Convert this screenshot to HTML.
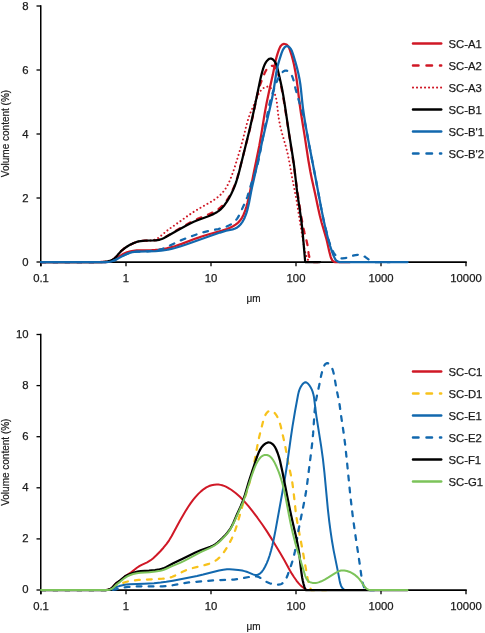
<!DOCTYPE html>
<html><head><meta charset="utf-8"><style>
html,body{margin:0;padding:0;background:#fff;}
body{width:485px;height:633px;overflow:hidden;}
svg{display:block;will-change:transform;}
.t{font-family:"Liberation Sans",sans-serif;font-size:11.3px;fill:#1a1a1a;stroke:#1a1a1a;stroke-width:0.25px;}
.u{font-family:"Liberation Sans",sans-serif;font-size:10px;fill:#1a1a1a;stroke:#1a1a1a;stroke-width:0.2px;}
</style></head><body>
<svg width="485" height="633" viewBox="0 0 485 633">
<rect width="485" height="633" fill="#fff"/>
<path d="M40.75 5.25 V266.20" stroke="#000" stroke-width="1.5" fill="none"/>
<path d="M40 262.10 H466.75" stroke="#000" stroke-width="1.6" fill="none"/>
<path d="M36.5 262.00 H41" stroke="#000" stroke-width="1.3"/>
<text x="28.5" y="266.10" text-anchor="end" class="t">0</text>
<path d="M36.5 198.00 H41" stroke="#000" stroke-width="1.3"/>
<text x="28.5" y="202.10" text-anchor="end" class="t">2</text>
<path d="M36.5 134.00 H41" stroke="#000" stroke-width="1.3"/>
<text x="28.5" y="138.10" text-anchor="end" class="t">4</text>
<path d="M36.5 70.00 H41" stroke="#000" stroke-width="1.3"/>
<text x="28.5" y="74.10" text-anchor="end" class="t">6</text>
<path d="M36.5 6.00 H41" stroke="#000" stroke-width="1.3"/>
<text x="28.5" y="10.10" text-anchor="end" class="t">8</text>
<path d="M41.00 262.00 V266.20" stroke="#000" stroke-width="1.3"/>
<text x="41.00" y="282.00" text-anchor="middle" class="t">0.1</text>
<path d="M126.00 262.00 V266.20" stroke="#000" stroke-width="1.3"/>
<text x="126.00" y="282.00" text-anchor="middle" class="t">1</text>
<path d="M211.00 262.00 V266.20" stroke="#000" stroke-width="1.3"/>
<text x="211.00" y="282.00" text-anchor="middle" class="t">10</text>
<path d="M296.00 262.00 V266.20" stroke="#000" stroke-width="1.3"/>
<text x="296.00" y="282.00" text-anchor="middle" class="t">100</text>
<path d="M381.00 262.00 V266.20" stroke="#000" stroke-width="1.3"/>
<text x="381.00" y="282.00" text-anchor="middle" class="t">1000</text>
<path d="M466.00 262.00 V266.20" stroke="#000" stroke-width="1.3"/>
<text x="466.00" y="282.00" text-anchor="middle" class="t">10000</text>
<text x="253.5" y="301.50" text-anchor="middle" class="u">μm</text>
<text transform="translate(8.5 133.50) rotate(-90)" text-anchor="middle" class="u" style="font-size:10px">Volume content (%)</text>
<path d="M41.00 262.00L105.35 262.02 107.68 261.84 109.32 261.58 111.54 260.94 113.65 259.96 115.65 258.77 120.37 255.61 123.59 253.83 126.96 252.40 130.48 251.35 133.42 250.80 136.74 250.48 140.74 250.31 151.74 250.12 155.41 249.92 159.06 249.57 162.69 249.07 166.62 248.33 170.51 247.41 174.69 246.23 181.66 243.90 195.68 238.57 201.65 236.48 208.97 234.24 222.17 230.60 226.92 229.03 230.01 227.76 233.01 226.24 235.58 224.63 237.94 222.76 239.57 221.12 240.81 219.57 242.07 217.63 243.31 215.26 244.37 212.77 245.39 209.89 246.49 206.34 247.55 202.46 248.80 197.29 250.12 191.13 254.08 171.18 259.29 145.71 261.11 135.55 264.74 113.18 266.62 103.01 268.87 92.25 272.90 74.37 275.64 60.65 276.53 57.15 277.57 53.63 278.93 49.67 279.89 47.38 280.77 45.95 281.88 44.82 282.97 44.21 284.17 43.97 284.79 44.00 285.70 44.22 286.28 44.47 287.06 44.99 288.14 46.18 288.98 47.65 290.01 50.30 291.68 55.53 292.89 59.98 294.03 64.79 295.37 71.66 296.59 79.27 297.55 86.56 299.62 103.75 300.93 112.97 304.61 135.68 308.27 159.74 310.33 171.56 311.78 178.74 315.19 194.03 318.33 209.03 319.79 215.54 321.72 222.97 326.26 238.32 327.20 242.16 329.27 251.56 330.59 256.55 331.41 258.82 332.20 260.24 333.25 261.35 334.59 262.09 350.00 262.10" stroke="#D01826" stroke-width="2.25" fill="none" stroke-linejoin="round" stroke-linecap="round"/>
<path d="M41.00 262.00L100.34 262.01 103.34 261.92 105.67 261.73 107.65 261.42 109.60 260.94 111.17 260.39 112.37 259.84 113.50 259.17 114.54 258.38 116.19 256.76 120.34 251.88 122.03 250.26 123.84 248.78 125.73 247.41 127.69 246.15 131.81 243.93 133.94 242.97 136.13 242.15 138.36 241.50 140.31 241.11 144.60 240.65 152.70 240.45 155.71 240.25 158.97 239.71 161.78 238.80 163.59 237.98 165.65 236.87 177.11 229.90 185.18 225.25 190.15 222.52 193.71 220.69 197.03 219.13 208.42 214.42 212.70 212.49 214.79 211.42 216.80 210.23 218.72 208.92 220.28 207.68 222.45 205.62 224.45 203.37 226.48 200.69 228.52 197.62 230.38 194.44 232.21 190.87 233.85 187.22 235.43 183.18 237.23 177.81 238.98 171.72 249.66 130.07 253.00 115.79 256.97 96.15 258.07 91.63 259.17 87.79 260.88 82.75 263.61 75.57 264.77 72.79 265.86 70.68 267.42 68.40 268.86 66.97 269.67 66.42 270.55 66.01 271.45 65.78 272.05 65.75 272.64 65.83 273.49 66.15 274.77 67.12 276.03 68.68 277.14 70.77 278.07 73.36 279.24 77.67 280.38 82.55 281.58 88.38 283.88 101.13 286.52 117.63 293.38 162.76 298.23 197.08 300.98 214.87 302.28 222.44 303.46 228.32 304.44 232.53 306.60 240.89 307.39 244.48 307.94 247.80 308.66 253.88 309.10 256.17 309.56 257.74 310.19 259.24 311.18 260.94 311.74 261.76 312.00 262.00 320.00 262.00" stroke="#D01826" stroke-width="2.25" fill="none" stroke-linejoin="round" stroke-linecap="round" stroke-dasharray="4.8 7.2"/>
<path d="M41.00 262.00L101.00 262.00 104.01 261.88 106.33 261.65 108.63 261.20 110.55 260.63 111.78 260.13 112.95 259.52 114.79 258.17 116.41 256.51 120.34 251.88 121.78 250.49 123.57 248.98 125.45 247.60 127.69 246.15 129.72 244.99 132.10 243.79 135.49 242.36 138.68 241.45 142.28 240.93 149.66 240.54 152.33 240.27 153.95 239.95 155.20 239.56 156.39 239.05 157.53 238.43 160.24 236.50 165.37 232.01 168.54 229.50 178.05 222.82 189.42 214.66 193.59 211.91 198.12 209.12 212.07 201.14 214.87 199.34 217.29 197.58 219.58 195.65 221.48 193.78 223.24 191.77 225.05 189.36 226.49 187.12 227.94 184.50 229.37 181.48 230.80 178.09 232.79 172.76 234.74 167.08 239.46 151.82 242.79 139.95 246.84 123.72 248.64 117.66 249.62 114.85 250.72 112.09 255.21 102.05 258.06 95.15 258.95 93.33 260.00 91.62 261.03 90.28 262.24 89.06 263.63 87.98 265.16 87.14 266.42 86.72 267.67 86.59 268.87 86.80 270.25 87.55 271.49 88.68 272.58 90.02 273.69 91.74 274.72 93.85 275.53 96.04 276.14 98.31 276.60 100.64 276.94 103.00 278.23 114.87 279.41 122.12 280.27 126.34 281.35 130.84 286.38 148.46 287.49 152.99 288.61 158.20 292.17 177.88 296.67 200.77 300.03 222.17 302.57 237.28 303.99 246.55 304.68 250.15 305.50 253.37 306.82 257.13 309.00 262.00 320.00 262.00" stroke="#D01826" stroke-width="2.0" fill="none" stroke-linejoin="round" stroke-linecap="round" stroke-dasharray="0.01 4"/>
<path d="M41.00 262.00L100.34 262.01 103.34 261.92 105.67 261.73 107.65 261.42 109.59 260.94 111.17 260.39 112.37 259.84 113.50 259.18 114.54 258.39 116.18 256.77 119.21 253.14 120.57 251.65 122.28 250.05 124.09 248.58 125.99 247.23 127.97 245.98 130.00 244.84 132.40 243.65 134.55 242.73 136.75 241.95 138.66 241.43 140.61 241.05 142.92 240.76 145.25 240.60 153.35 240.48 156.02 240.33 158.96 239.89 161.78 239.04 163.60 238.25 165.38 237.33 176.40 230.91 185.45 225.97 190.18 223.50 193.78 221.76 196.84 220.45 208.40 216.19 212.75 214.38 214.85 213.34 216.87 212.18 218.79 210.87 220.33 209.62 222.45 207.52 224.59 204.94 226.91 201.63 229.17 197.89 231.22 194.06 233.07 190.13 234.71 186.13 236.27 181.75 237.74 176.98 239.30 171.19 249.80 128.81 253.67 111.58 259.77 81.88 261.03 76.36 262.28 71.52 263.22 68.31 264.00 66.09 264.82 64.23 265.84 62.42 267.10 60.69 268.32 59.46 269.38 58.78 270.47 58.50 271.31 58.60 272.14 58.96 272.94 59.50 273.93 60.46 274.59 61.27 275.34 62.43 275.96 63.65 276.58 65.23 277.50 68.51 280.68 82.21 282.10 89.01 283.40 96.21 284.93 105.76 289.05 133.46 293.42 160.76 294.50 169.02 297.07 191.53 301.07 218.55 301.91 225.50 302.76 233.79 305.20 262.00 320.00 262.00" stroke="#000000" stroke-width="2.25" fill="none" stroke-linejoin="round" stroke-linecap="round"/>
<path d="M41.00 262.00L106.34 262.02 108.67 261.84 110.65 261.56 112.90 261.00 115.05 260.13 122.06 256.24 126.58 254.09 129.70 252.89 132.27 252.20 134.56 251.85 137.56 251.62 155.56 251.05 161.22 250.67 164.52 250.25 167.80 249.67 171.38 248.89 174.94 247.97 180.07 246.45 186.10 244.46 209.34 236.20 220.06 232.55 226.14 230.76 232.69 229.31 234.60 228.77 236.68 227.79 238.56 226.41 240.00 225.01 241.29 223.48 242.44 221.83 243.62 219.80 244.65 217.67 245.67 215.18 246.65 212.32 247.49 209.43 248.93 203.26 250.96 192.44 252.03 187.22 256.88 166.10 262.33 140.68 269.84 108.55 271.86 99.45 273.79 89.29 276.29 72.75 277.54 66.59 278.37 63.40 279.61 59.26 281.47 53.39 282.46 50.82 283.40 49.02 284.59 47.41 285.29 46.77 285.78 46.45 286.31 46.25 286.85 46.17 287.41 46.23 288.24 46.53 289.04 47.03 289.77 47.66 290.96 49.22 291.90 51.07 292.98 54.09 295.26 61.55 297.00 67.89 298.35 73.40 299.43 78.65 300.33 84.25 300.98 89.55 302.26 102.14 302.96 108.10 304.07 116.02 305.45 124.58 308.24 140.00 315.13 175.67 321.84 211.37 323.50 219.55 325.16 227.05 326.80 233.87 328.41 239.99 330.17 246.04 331.71 250.77 333.37 255.20 334.93 258.65 335.82 260.03 336.94 261.10 338.03 261.66 339.57 262.09 340.00 262.00 407.60 262.00" stroke="#1268AE" stroke-width="2.25" fill="none" stroke-linejoin="round" stroke-linecap="round"/>
<path d="M41.00 262.00L106.34 262.02 109.00 261.81 110.97 261.50 113.21 260.89 115.04 260.13 121.76 256.40 125.96 254.36 129.06 253.11 131.61 252.35 133.89 251.93 136.21 251.70 147.54 251.26 152.54 250.85 155.19 250.49 157.83 250.01 162.35 248.84 164.86 247.96 167.61 246.79 176.25 242.43 180.18 240.62 184.82 238.75 192.95 235.72 198.93 233.62 204.03 232.10 208.24 231.11 218.36 229.03 223.84 227.58 226.36 226.69 228.80 225.59 231.13 224.26 233.05 222.89 234.57 221.58 235.95 220.13 237.17 218.57 238.24 216.90 239.79 213.95 245.69 201.18 247.44 196.53 250.79 185.34 256.01 169.88 257.78 163.47 259.45 155.99 263.33 135.33 269.21 105.24 270.79 98.77 272.78 92.42 276.83 81.48 278.04 78.72 279.31 76.34 281.07 73.75 282.73 71.96 283.52 71.36 284.35 70.91 285.23 70.66 285.84 70.61 286.76 70.71 287.66 71.00 288.50 71.45 289.51 72.27 290.41 73.29 291.19 74.44 291.87 75.68 292.57 77.27 293.60 80.49 295.48 88.59 297.18 95.03 298.79 100.47 301.90 110.32 303.16 114.81 304.41 119.98 305.70 126.18 309.51 146.85 316.18 181.18 320.89 206.75 323.27 218.50 325.95 229.84 329.21 241.74 330.96 247.14 331.86 249.30 332.90 251.41 333.77 252.87 334.75 254.24 335.63 255.25 336.61 256.16 337.69 256.94 338.87 257.57 340.12 258.04 341.08 258.28 342.70 258.44 344.65 258.23 346.59 257.73 351.11 256.17 354.02 255.36 357.32 254.78 359.64 254.72 361.57 255.07 363.39 255.82 365.40 257.05 369.73 260.20 371.49 261.10 373.66 261.94 374.00 262.00 390.00 262.00" stroke="#1268AE" stroke-width="2.25" fill="none" stroke-linejoin="round" stroke-linecap="round" stroke-dasharray="4.8 7.2"/>
<path d="M413 43.60 H441.2" stroke="#D01826" stroke-width="2.5" fill="none" stroke-linecap="round"/>
<text x="448.5" y="47.60" class="t">SC-A1</text>
<path d="M413 65.60 H441.2" stroke="#D01826" stroke-width="2.5" fill="none" stroke-linecap="round" stroke-dasharray="5.5 8"/>
<text x="448.5" y="69.60" class="t">SC-A2</text>
<path d="M413 87.60 H441.2" stroke="#D01826" stroke-width="2.1" fill="none" stroke-linecap="round" stroke-dasharray="0.01 4"/>
<text x="448.5" y="91.60" class="t">SC-A3</text>
<path d="M413 109.60 H441.2" stroke="#000000" stroke-width="2.5" fill="none" stroke-linecap="round"/>
<text x="448.5" y="113.60" class="t">SC-B1</text>
<path d="M413 131.60 H441.2" stroke="#1268AE" stroke-width="2.5" fill="none" stroke-linecap="round"/>
<text x="448.5" y="135.60" class="t">SC-B'1</text>
<path d="M413 153.60 H441.2" stroke="#1268AE" stroke-width="2.5" fill="none" stroke-linecap="round" stroke-dasharray="5.5 8"/>
<text x="448.5" y="157.60" class="t">SC-B'2</text>
<path d="M40.75 333.75 V594.20" stroke="#000" stroke-width="1.5" fill="none"/>
<path d="M40 590.10 H466.75" stroke="#000" stroke-width="1.6" fill="none"/>
<path d="M36.5 590.00 H41" stroke="#000" stroke-width="1.3"/>
<text x="28.5" y="593.40" text-anchor="end" class="t">0</text>
<path d="M36.5 538.90 H41" stroke="#000" stroke-width="1.3"/>
<text x="28.5" y="542.30" text-anchor="end" class="t">2</text>
<path d="M36.5 487.80 H41" stroke="#000" stroke-width="1.3"/>
<text x="28.5" y="491.20" text-anchor="end" class="t">4</text>
<path d="M36.5 436.70 H41" stroke="#000" stroke-width="1.3"/>
<text x="28.5" y="440.10" text-anchor="end" class="t">6</text>
<path d="M36.5 385.60 H41" stroke="#000" stroke-width="1.3"/>
<text x="28.5" y="389.00" text-anchor="end" class="t">8</text>
<path d="M36.5 334.50 H41" stroke="#000" stroke-width="1.3"/>
<text x="28.5" y="337.90" text-anchor="end" class="t">10</text>
<path d="M41.00 590.00 V594.20" stroke="#000" stroke-width="1.3"/>
<text x="41.00" y="610.00" text-anchor="middle" class="t">0.1</text>
<path d="M126.00 590.00 V594.20" stroke="#000" stroke-width="1.3"/>
<text x="126.00" y="610.00" text-anchor="middle" class="t">1</text>
<path d="M211.00 590.00 V594.20" stroke="#000" stroke-width="1.3"/>
<text x="211.00" y="610.00" text-anchor="middle" class="t">10</text>
<path d="M296.00 590.00 V594.20" stroke="#000" stroke-width="1.3"/>
<text x="296.00" y="610.00" text-anchor="middle" class="t">100</text>
<path d="M381.00 590.00 V594.20" stroke="#000" stroke-width="1.3"/>
<text x="381.00" y="610.00" text-anchor="middle" class="t">1000</text>
<path d="M466.00 590.00 V594.20" stroke="#000" stroke-width="1.3"/>
<text x="466.00" y="610.00" text-anchor="middle" class="t">10000</text>
<text x="253.5" y="629.50" text-anchor="middle" class="u">μm</text>
<text transform="translate(8.5 462.20) rotate(-90)" text-anchor="middle" class="u" style="font-size:10px">Volume content (%)</text>
<path d="M41.00 590.00L106.37 590.05 108.95 589.48 110.72 588.64 111.53 588.08 112.52 587.22 115.20 584.24 116.38 583.09 120.43 580.20 125.28 576.15 131.14 572.34 136.91 567.80 139.36 566.09 141.69 564.81 147.15 562.32 150.32 560.47 152.95 558.45 156.37 555.26 160.34 551.22 163.46 547.74 166.60 543.85 169.12 540.33 171.70 536.06 176.53 526.92 180.05 520.49 185.42 511.28 188.09 507.04 190.71 503.18 193.29 499.70 195.61 496.85 198.32 493.90 200.98 491.36 203.83 489.04 206.34 487.39 209.03 486.05 211.57 485.19 214.20 484.66 216.87 484.49 218.54 484.58 220.53 484.87 222.15 485.26 224.05 485.89 225.89 486.69 227.67 487.60 229.69 488.78 231.93 490.23 235.92 493.25 239.90 496.80 244.09 501.09 248.47 506.12 252.84 511.59 257.43 517.72 262.27 524.51 266.75 531.13 272.45 540.14 280.17 553.00 284.51 560.50 289.93 570.45 291.95 573.89 294.13 577.25 296.43 580.53 298.27 582.90 300.05 584.88 301.50 586.25 302.80 587.29 304.72 588.61 307.00 590.00 320.00 590.00" stroke="#D01826" stroke-width="2.0" fill="none" stroke-linejoin="round" stroke-linecap="round"/>
<path d="M41.00 590.00L108.35 590.01 110.93 589.40 112.76 588.65 114.52 587.71 119.36 584.73 122.64 583.11 125.77 582.00 129.34 581.11 133.65 580.42 138.64 579.93 155.95 579.12 162.60 578.66 167.25 578.13 170.17 577.52 172.37 576.79 174.50 575.88 182.55 571.73 186.21 570.14 189.02 569.15 192.20 568.19 204.63 565.10 208.84 563.86 211.34 562.91 213.44 561.93 215.44 560.78 217.06 559.64 219.32 557.67 221.60 555.21 223.87 552.29 226.09 548.95 228.60 544.63 231.69 538.71 233.50 534.78 235.07 530.75 237.13 524.41 242.16 506.75 248.97 484.43 251.27 476.08 252.75 469.92 254.08 463.73 257.37 445.68 258.68 439.16 260.52 431.40 263.64 419.39 264.27 417.46 264.93 415.89 265.73 414.37 266.71 412.92 267.62 411.90 268.64 411.12 269.46 410.76 270.33 410.65 271.23 410.79 272.41 411.27 273.54 412.00 274.55 412.89 275.46 413.91 276.45 415.31 278.08 418.34 279.33 421.47 280.49 425.31 284.10 440.89 285.73 448.72 288.51 464.14 291.26 476.84 292.28 482.41 293.50 491.32 295.77 512.22 296.56 517.83 297.53 523.75 302.54 549.94 307.58 578.18 308.59 582.74 309.61 586.25 311.00 590.00 330.00 590.00" stroke="#F7C21C" stroke-width="2.25" fill="none" stroke-linejoin="round" stroke-linecap="round" stroke-dasharray="4.8 7.2"/>
<path d="M41.00 590.00L108.35 590.02 110.29 589.64 111.87 589.15 117.06 586.90 119.24 586.08 121.48 585.43 123.75 584.94 126.39 584.56 129.38 584.31 144.06 583.72 154.03 583.13 160.67 582.53 166.28 581.81 172.85 580.67 197.05 575.94 203.22 574.56 219.06 570.59 223.32 569.75 226.96 569.30 229.61 569.22 232.94 569.39 238.26 569.94 242.20 570.57 244.46 571.10 246.68 571.78 248.89 572.61 253.02 574.41 254.29 574.82 255.24 575.00 256.49 575.03 257.71 574.76 258.89 574.24 260.26 573.32 261.91 571.70 263.50 569.51 265.02 566.80 266.77 563.10 268.29 559.35 269.70 555.25 271.00 550.79 272.22 545.98 273.94 538.20 275.68 529.39 284.81 478.86 287.06 464.72 290.77 437.99 292.50 426.46 295.07 411.01 298.02 394.96 298.62 392.36 299.31 390.11 300.08 388.21 301.06 386.33 302.28 384.52 303.46 383.25 304.47 382.57 305.50 382.31 306.54 382.55 307.80 383.45 309.21 385.06 310.61 387.21 311.73 389.40 312.61 391.63 313.36 394.21 313.97 397.16 316.42 416.34 321.17 446.29 322.91 458.80 324.43 472.68 327.91 509.62 329.24 521.31 330.64 531.93 332.13 541.78 333.72 550.85 337.84 571.09 339.71 581.03 340.25 583.43 341.00 585.67 341.89 587.37 343.09 588.80 344.60 589.94 360.00 590.00" stroke="#1268AE" stroke-width="2.0" fill="none" stroke-linejoin="round" stroke-linecap="round"/>
<path d="M41.00 590.00L112.00 590.00 115.94 589.36 123.06 587.62 128.01 586.95 132.66 586.60 137.98 586.39 143.98 586.34 158.35 586.46 162.36 586.36 166.01 586.14 171.29 585.50 182.74 583.29 188.68 582.46 193.98 581.96 214.58 580.35 219.58 580.10 229.60 579.88 233.91 579.60 239.13 578.88 250.67 576.66 252.70 576.37 254.38 576.26 256.66 576.41 257.59 576.62 258.80 577.05 260.82 578.14 264.77 580.80 266.83 582.00 269.59 583.23 272.48 584.11 274.14 584.44 275.83 584.65 278.56 584.68 279.87 584.48 280.80 584.21 281.68 583.82 282.76 583.09 284.15 581.69 285.32 580.04 286.45 577.98 287.50 575.51 290.85 566.01 292.51 560.96 293.85 556.17 294.94 551.31 295.96 545.74 298.60 529.59 304.49 500.53 305.78 493.31 306.89 486.07 311.40 450.03 312.33 442.09 313.14 433.13 314.57 411.85 315.20 405.88 316.03 400.27 316.99 395.34 319.28 384.95 321.20 375.28 322.73 369.18 323.70 366.52 324.72 364.81 325.34 364.10 326.05 363.54 326.81 363.21 327.33 363.14 328.12 363.31 328.89 363.76 329.63 364.40 330.52 365.44 331.27 366.58 331.91 367.79 332.98 370.68 333.59 373.02 334.30 376.36 336.39 388.46 338.73 399.88 339.56 404.48 341.42 418.01 343.65 432.84 345.05 443.74 346.56 457.66 350.32 495.46 352.68 515.63 354.99 532.47 359.69 563.75 361.55 577.02 362.45 581.97 363.04 584.22 363.78 586.41 364.56 588.24 365.50 590.00 380.00 590.00" stroke="#1268AE" stroke-width="2.25" fill="none" stroke-linejoin="round" stroke-linecap="round" stroke-dasharray="4.8 7.2"/>
<path d="M41.00 590.00L106.37 590.05 108.32 589.66 109.85 589.11 111.52 588.09 112.75 586.99 115.42 584.01 116.64 582.88 120.15 580.38 124.74 576.54 126.14 575.68 127.63 574.97 133.87 572.56 135.77 571.98 137.38 571.62 140.68 571.19 149.03 570.67 154.99 570.06 159.62 569.35 161.56 568.90 163.14 568.41 165.88 567.24 173.27 563.34 183.18 558.60 195.41 552.54 200.63 550.31 210.40 546.78 212.80 545.68 215.09 544.37 217.50 542.63 219.79 540.67 222.44 538.09 225.46 534.93 227.43 532.65 229.05 530.55 230.52 528.35 231.82 526.05 233.55 522.45 236.72 515.06 240.71 506.24 243.08 500.40 245.09 494.41 248.46 482.88 249.96 478.11 256.39 458.51 257.53 455.37 258.67 452.57 259.69 450.42 260.86 448.37 262.04 446.72 263.16 445.45 264.44 444.30 265.87 443.34 267.39 442.68 268.64 442.48 269.26 442.50 270.18 442.71 271.07 443.09 271.92 443.60 273.43 444.94 274.84 446.83 276.11 449.24 277.65 453.02 278.92 456.84 280.06 461.01 282.46 472.04 287.46 497.55 290.00 509.95 292.34 520.69 296.16 537.24 297.67 544.41 298.63 549.65 299.33 554.28 301.15 570.58 302.10 577.18 302.79 580.77 303.57 583.99 304.41 586.86 305.50 590.00 407.60 590.00" stroke="#000000" stroke-width="2.25" fill="none" stroke-linejoin="round" stroke-linecap="round"/>
<path d="M41.00 590.00L107.00 590.00 107.37 590.06 109.66 589.68 111.49 589.00 112.87 588.13 113.84 587.26 115.89 585.08 116.87 584.18 120.34 581.59 124.99 577.81 127.24 576.39 129.65 575.23 133.15 574.05 136.76 573.29 140.40 572.86 149.37 572.19 155.34 571.52 160.29 570.74 162.23 570.28 163.81 569.78 166.27 568.78 172.03 566.12 180.03 562.80 183.67 561.17 187.53 559.21 199.25 552.86 202.27 551.42 209.62 548.19 213.43 546.19 215.65 544.74 218.02 542.91 220.51 540.69 223.14 538.08 225.65 535.38 227.80 532.83 229.57 530.42 231.15 527.89 232.41 525.55 233.85 522.55 240.87 507.03 243.07 501.82 245.76 494.30 250.17 480.30 252.27 473.97 254.32 468.34 256.02 464.35 257.25 461.96 258.50 459.95 259.72 458.30 260.88 457.06 262.19 456.04 263.36 455.42 264.61 455.03 265.90 454.90 266.86 455.00 267.80 455.26 268.71 455.66 269.56 456.17 270.36 456.78 271.32 457.69 272.78 459.52 274.36 462.17 276.58 466.80 278.51 471.45 280.20 476.13 282.30 483.08 284.29 491.12 285.99 499.28 289.19 516.36 290.70 523.88 292.75 532.97 295.12 542.37 297.93 552.30 302.56 567.05 305.07 575.48 305.68 577.13 306.40 578.66 307.28 580.02 308.13 580.95 308.86 581.54 309.96 582.16 311.20 582.60 312.51 582.88 313.87 583.00 315.57 582.94 316.90 582.75 318.53 582.36 321.38 581.30 324.70 579.62 328.43 577.41 335.23 573.04 337.90 571.60 339.44 570.99 341.02 570.59 342.65 570.43 344.31 570.49 346.95 570.98 349.81 571.96 352.50 573.31 355.25 575.17 357.51 577.13 359.56 579.37 361.01 581.29 364.07 585.93 365.55 587.70 366.49 588.55 367.26 589.08 368.39 589.63 369.61 590.04 407.60 590.00" stroke="#7CC35A" stroke-width="2.0" fill="none" stroke-linejoin="round" stroke-linecap="round"/>
<path d="M413 371.60 H441.2" stroke="#D01826" stroke-width="2.5" fill="none" stroke-linecap="round"/>
<text x="448.5" y="375.60" class="t">SC-C1</text>
<path d="M413 393.60 H441.2" stroke="#F7C21C" stroke-width="2.5" fill="none" stroke-linecap="round" stroke-dasharray="5.5 8"/>
<text x="448.5" y="397.60" class="t">SC-D1</text>
<path d="M413 415.60 H441.2" stroke="#1268AE" stroke-width="2.5" fill="none" stroke-linecap="round"/>
<text x="448.5" y="419.60" class="t">SC-E1</text>
<path d="M413 437.60 H441.2" stroke="#1268AE" stroke-width="2.5" fill="none" stroke-linecap="round" stroke-dasharray="5.5 8"/>
<text x="448.5" y="441.60" class="t">SC-E2</text>
<path d="M413 459.60 H441.2" stroke="#000000" stroke-width="2.5" fill="none" stroke-linecap="round"/>
<text x="448.5" y="463.60" class="t">SC-F1</text>
<path d="M413 481.60 H441.2" stroke="#7CC35A" stroke-width="2.5" fill="none" stroke-linecap="round"/>
<text x="448.5" y="485.60" class="t">SC-G1</text>
</svg>
</body></html>
